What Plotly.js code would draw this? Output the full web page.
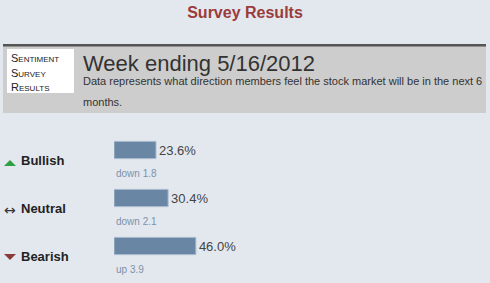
<!DOCTYPE html>
<html>
<head>
<meta charset="utf-8">
<script src="https://cdn.plot.ly/plotly-3.0.1.min.js"></script>
<style>
  html, body { margin: 0; padding: 0; background: #e3e8ef; }
  #chart { width: 490px; height: 283px; }
</style>
</head>
<body>
<div id="chart"></div>
<script>
// Weekly sentiment survey
const categories = ['Bullish', 'Neutral', 'Bearish'];
const values = [23.6, 30.4, 46.0];
const changeText = ['down 1.8', 'down 2.1', 'up 3.9'];
const weekLabel = 'Week ending 5/16/2012';
const description = 'Data represents what direction members feel the stock market will be in the next 6';
const descriptionTail = 'months.';

const W = 490, H = 283;
const M = { l: 114, r: 198, t: 126, b: 13 };
const plotW = W - M.l - M.r, plotH = H - M.t - M.b;
// pixel -> paper coordinate helpers for the header decorations
const px = v => (v - M.l) / plotW;
const py = v => (H - M.b - v) / plotH;

const FONT = 'Liberation Sans, Arial, sans-serif';
const yIdx = categories.map((_, i) => i);

const trace = {
  type: 'bar',
  orientation: 'h',
  x: values,
  y: yIdx,
  width: 0.36,
  marker: { color: '#6a86a5', line: { color: '#aebdd0', width: 1 } },
  text: values.map(v => v.toFixed(1) + '%'),
  textposition: 'outside',
  textfont: { family: FONT, size: 13, color: '#444444' },
  cliponaxis: false,
  hoverinfo: 'skip'
};

const annotations = [];
categories.forEach((c, i) => {
  annotations.push({
    xref: 'x', yref: 'y', x: 0, y: i, yshift: -23,
    xanchor: 'left', yanchor: 'middle', showarrow: false,
    text: changeText[i],
    font: { family: FONT, size: 10, color: '#7d91aa' }
  });
  annotations.push({
    xref: 'paper', yref: 'y', x: px(19), y: i, yshift: -10,
    xanchor: 'left', yanchor: 'middle', showarrow: false,
    text: '<b>' + c + '</b>',
    font: { family: FONT, size: 13, color: '#222222' }
  });
});

// trend icons next to each label
const iconShapes = [
  { row: 0, path: 'M -6,-16 L 6,-16 L 0,-10 Z', color: '#2ea043' },
  { row: 2, path: 'M -6,-8 L 6,-8 L 0,-14 Z', color: '#8b3a3a' }
].map(s => ({
  type: 'path', xref: 'paper', yref: 'y',
  xsizemode: 'pixel', ysizemode: 'pixel',
  xanchor: px(10), yanchor: s.row,
  path: s.path, fillcolor: s.color, line: { width: 0 }
}));
annotations.push({
  xref: 'paper', yref: 'y', x: px(10), y: 1, yshift: -12,
  xanchor: 'center', yanchor: 'middle', showarrow: false,
  text: '\u2194', font: { family: 'DejaVu Sans', size: 14, color: '#333333' }
});

// header panel text
annotations.push(
  { xref: 'paper', yref: 'paper', x: px(9), y: py(58), xanchor: 'left', yanchor: 'middle', showarrow: false,
    text: 'Sentiment', font: { family: FONT, size: 11, color: '#222222', variant: 'small-caps' } },
  { xref: 'paper', yref: 'paper', x: px(9), y: py(72.5), xanchor: 'left', yanchor: 'middle', showarrow: false,
    text: 'Survey', font: { family: FONT, size: 11, color: '#222222', variant: 'small-caps' } },
  { xref: 'paper', yref: 'paper', x: px(9), y: py(87), xanchor: 'left', yanchor: 'middle', showarrow: false,
    text: 'Results', font: { family: FONT, size: 11, color: '#222222', variant: 'small-caps' } },
  { xref: 'paper', yref: 'paper', x: px(81), y: py(63), xanchor: 'left', yanchor: 'middle', showarrow: false,
    text: weekLabel, font: { family: FONT, size: 22, color: '#333333' } },
  { xref: 'paper', yref: 'paper', x: px(81), y: py(81), xanchor: 'left', yanchor: 'middle', showarrow: false,
    text: description, font: { family: FONT, size: 11, color: '#333333' } },
  { xref: 'paper', yref: 'paper', x: px(81), y: py(102), xanchor: 'left', yanchor: 'middle', showarrow: false,
    text: descriptionTail, font: { family: FONT, size: 11, color: '#333333' } }
);

const shapes = [
  { type: 'rect', xref: 'paper', yref: 'paper', layer: 'below',
    x0: px(3), x1: px(486), y0: py(46), y1: py(113),
    fillcolor: '#cdcdcd', line: { width: 0 } },
  { type: 'rect', xref: 'paper', yref: 'paper', layer: 'below',
    x0: px(3), x1: px(486), y0: py(44), y1: py(46.5),
    fillcolor: '#555555', line: { width: 0 } },
  { type: 'rect', xref: 'paper', yref: 'paper', layer: 'below',
    x0: px(7), x1: px(74), y0: py(49), y1: py(93),
    fillcolor: '#ffffff', line: { width: 0 } }
].concat(iconShapes);

const layout = {
  width: W, height: H,
  margin: M,
  paper_bgcolor: '#e3e8ef',
  plot_bgcolor: 'rgba(0,0,0,0)',
  showlegend: false,
  title: {
    text: '<b>Survey Results</b>',
    x: 0.5, xanchor: 'center',
    y: 1 - 12 / H, yanchor: 'middle', yref: 'container',
    font: { family: FONT, size: 16, color: '#9b3b3b' }
  },
  xaxis: { range: [0, 100], visible: false, fixedrange: true },
  yaxis: { range: [2.5, -0.5], visible: false, fixedrange: true },
  annotations: annotations,
  shapes: shapes
};

Plotly.newPlot('chart', [trace], layout, { displayModeBar: false, staticPlot: true });
</script>
</body>
</html>
